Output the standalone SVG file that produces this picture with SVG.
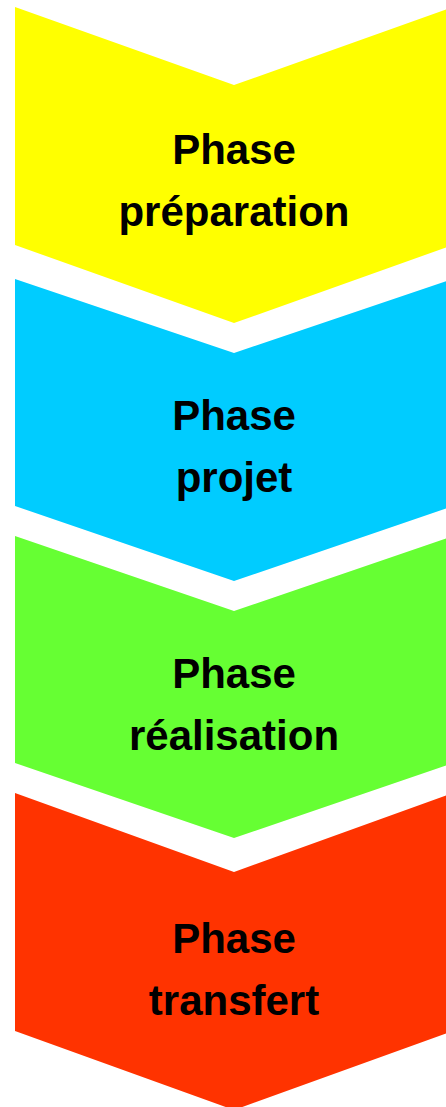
<svg xmlns="http://www.w3.org/2000/svg" width="446" height="1107" viewBox="0 0 446 1107">
<style>
.lbl{font-family:"Liberation Sans",Arial,sans-serif;font-weight:bold;font-size:42px;fill:#000;text-anchor:middle}
</style>
<rect width="446" height="1107" fill="#fff"/>
<g id="phase-preparation">
<polygon points="15,7 234,85 453,7 453,245 234,323 15,245" fill="#ffff00"/>
<text class="lbl" x="234" y="164">Phase</text>
<text class="lbl" x="234" y="226">préparation</text>
</g>
<g id="phase-projet">
<polygon points="15,279 234,353 453,279 453,506 234,581 15,506" fill="#00ccff"/>
<text class="lbl" x="234" y="430">Phase</text>
<text class="lbl" x="234" y="492">projet</text>
</g>
<g id="phase-realisation">
<polygon points="15,536 234,611 453,536 453,763 234,838 15,763" fill="#66ff33"/>
<text class="lbl" x="234" y="688">Phase</text>
<text class="lbl" x="234" y="750">réalisation</text>
</g>
<g id="phase-transfert">
<polygon points="15,793 234,872 453,793 453,1031 234,1110 15,1031" fill="#ff3300"/>
<text class="lbl" x="234" y="953">Phase</text>
<text class="lbl" x="234" y="1015">transfert</text>
</g>
<g id="connectors"/>
</svg>
